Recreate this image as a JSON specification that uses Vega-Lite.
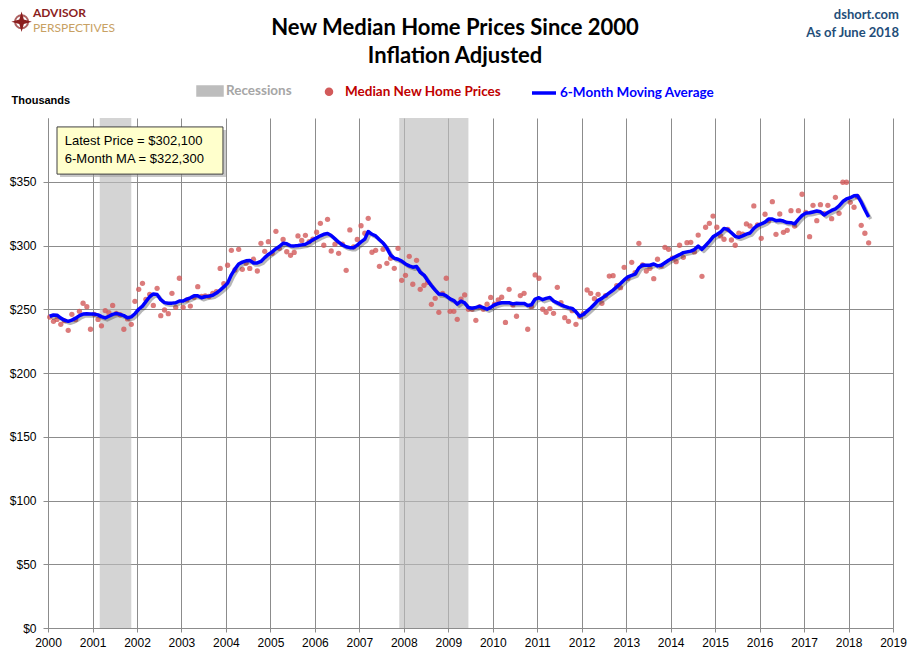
{
  "$schema": "https://vega.github.io/schema/vega-lite/v6.json",
  "width": 845,
  "height": 510,
  "autosize": {"type": "none"},
  "padding": {"left": 48, "top": 118, "right": 17, "bottom": 33},
  "background": "white",
  "config": {
    "view": {"stroke": null},
    "font": "Liberation Sans",
    "axisX": {
      "grid": true, "gridColor": "#8C8C8C", "domainColor": "#8C8C8C", "tickColor": "#8C8C8C",
      "tickSize": 4, "labelPadding": 5, "labelFont": "Liberation Sans Narrow, Liberation Sans",
      "labelFontSize": 12, "labelColor": "#000000", "labelFlush": false, "labelOverlap": false
    },
    "axisY": {
      "grid": true, "gridColor": "#8C8C8C", "domainColor": "#8C8C8C", "tickColor": "#8C8C8C",
      "tickSize": 5, "labelPadding": 7, "labelFont": "Liberation Sans", "labelFontSize": 12,
      "labelColor": "#000000", "titleAngle": 0, "titleAlign": "left", "titleBaseline": "middle",
      "titleX": -37, "titleY": -18, "titleFont": "Liberation Sans", "titleFontSize": 11,
      "titleFontWeight": "bold", "titleColor": "#000000"
    }
  },
  "data": {
    "format": {"parse": {"date": "date:'%Y-%m-%d'"}},
    "values": [
      {"date": "2000-01-15", "price": 243.9, "ma": 244.5},
      {"date": "2000-02-15", "price": 240.5, "ma": 245.5},
      {"date": "2000-03-15", "price": 242, "ma": 245.3},
      {"date": "2000-04-15", "price": 238.2, "ma": 243},
      {"date": "2000-05-15", "price": 241, "ma": 241.5},
      {"date": "2000-06-15", "price": 233.5, "ma": 240.5},
      {"date": "2000-07-15", "price": 246, "ma": 241.5},
      {"date": "2000-08-15", "price": 241.8, "ma": 243},
      {"date": "2000-09-15", "price": 248.4, "ma": 245},
      {"date": "2000-10-15", "price": 254.7, "ma": 246.2},
      {"date": "2000-11-15", "price": 252, "ma": 246.4},
      {"date": "2000-12-15", "price": 234.3, "ma": 246.3},
      {"date": "2001-01-15", "price": 246, "ma": 246.2},
      {"date": "2001-02-15", "price": 242, "ma": 245.6},
      {"date": "2001-03-15", "price": 237, "ma": 244.2},
      {"date": "2001-04-15", "price": 249, "ma": 243.2},
      {"date": "2001-05-15", "price": 247.3, "ma": 244.5},
      {"date": "2001-06-15", "price": 253, "ma": 246},
      {"date": "2001-07-15", "price": 246.8, "ma": 246.8},
      {"date": "2001-08-15", "price": 245.7, "ma": 246},
      {"date": "2001-09-15", "price": 234.3, "ma": 245},
      {"date": "2001-10-15", "price": 242.4, "ma": 243.4},
      {"date": "2001-11-15", "price": 238.2, "ma": 244},
      {"date": "2001-12-15", "price": 256.2, "ma": 246.5},
      {"date": "2002-01-15", "price": 265.6, "ma": 250},
      {"date": "2002-02-15", "price": 270.3, "ma": 252.5},
      {"date": "2002-03-15", "price": 257.8, "ma": 256},
      {"date": "2002-04-15", "price": 261.7, "ma": 259.8},
      {"date": "2002-05-15", "price": 253, "ma": 262},
      {"date": "2002-06-15", "price": 266.4, "ma": 261.5},
      {"date": "2002-07-15", "price": 245, "ma": 257.5},
      {"date": "2002-08-15", "price": 249.4, "ma": 255.2},
      {"date": "2002-09-15", "price": 246.5, "ma": 254.7},
      {"date": "2002-10-15", "price": 262.5, "ma": 254.8},
      {"date": "2002-11-15", "price": 251.5, "ma": 255.1},
      {"date": "2002-12-15", "price": 274.3, "ma": 256.5},
      {"date": "2003-01-15", "price": 251.5, "ma": 256.5},
      {"date": "2003-02-15", "price": 257.3, "ma": 258},
      {"date": "2003-03-15", "price": 252.5, "ma": 259},
      {"date": "2003-04-15", "price": 259.4, "ma": 260.5},
      {"date": "2003-05-15", "price": 267.7, "ma": 260.5},
      {"date": "2003-06-15", "price": 260, "ma": 259},
      {"date": "2003-07-15", "price": 260.4, "ma": 260},
      {"date": "2003-08-15", "price": 260, "ma": 260.3},
      {"date": "2003-09-15", "price": 262.5, "ma": 261},
      {"date": "2003-10-15", "price": 263.8, "ma": 262.7},
      {"date": "2003-11-15", "price": 282, "ma": 265},
      {"date": "2003-12-15", "price": 270, "ma": 267.5},
      {"date": "2004-01-15", "price": 284.5, "ma": 270.5},
      {"date": "2004-02-15", "price": 296.2, "ma": 277},
      {"date": "2004-03-15", "price": 280.8, "ma": 281.5},
      {"date": "2004-04-15", "price": 297, "ma": 285.5},
      {"date": "2004-05-15", "price": 281.3, "ma": 287},
      {"date": "2004-06-15", "price": 286, "ma": 288},
      {"date": "2004-07-15", "price": 282, "ma": 288.3},
      {"date": "2004-08-15", "price": 289.2, "ma": 286.3},
      {"date": "2004-09-15", "price": 280, "ma": 286.3},
      {"date": "2004-10-15", "price": 301.7, "ma": 287.5},
      {"date": "2004-11-15", "price": 295.4, "ma": 290.5},
      {"date": "2004-12-15", "price": 303, "ma": 293},
      {"date": "2005-01-15", "price": 293.9, "ma": 295},
      {"date": "2005-02-15", "price": 311.1, "ma": 297.5},
      {"date": "2005-03-15", "price": 297.8, "ma": 299.2},
      {"date": "2005-04-15", "price": 304.8, "ma": 301.8},
      {"date": "2005-05-15", "price": 295.1, "ma": 301.3},
      {"date": "2005-06-15", "price": 292.3, "ma": 299.8},
      {"date": "2005-07-15", "price": 294.6, "ma": 299.7},
      {"date": "2005-08-15", "price": 307.5, "ma": 300},
      {"date": "2005-09-15", "price": 304, "ma": 300.5},
      {"date": "2005-10-15", "price": 308, "ma": 301},
      {"date": "2005-11-15", "price": 303, "ma": 302.5},
      {"date": "2005-12-15", "price": 305, "ma": 304.5},
      {"date": "2006-01-15", "price": 310.4, "ma": 306},
      {"date": "2006-02-15", "price": 317.4, "ma": 307.6},
      {"date": "2006-03-15", "price": 300.2, "ma": 308.8},
      {"date": "2006-04-15", "price": 320.5, "ma": 309.4},
      {"date": "2006-05-15", "price": 295.7, "ma": 307.8},
      {"date": "2006-06-15", "price": 301, "ma": 305.2},
      {"date": "2006-07-15", "price": 293.9, "ma": 302.6},
      {"date": "2006-08-15", "price": 301, "ma": 300.5},
      {"date": "2006-09-15", "price": 280.5, "ma": 299},
      {"date": "2006-10-15", "price": 312.2, "ma": 298.3},
      {"date": "2006-11-15", "price": 299, "ma": 298.3},
      {"date": "2006-12-15", "price": 304.8, "ma": 300.3},
      {"date": "2007-01-15", "price": 315.5, "ma": 302.8},
      {"date": "2007-02-15", "price": 309.6, "ma": 305},
      {"date": "2007-03-15", "price": 321.3, "ma": 311},
      {"date": "2007-04-15", "price": 294.7, "ma": 308.8},
      {"date": "2007-05-15", "price": 296.2, "ma": 307.5},
      {"date": "2007-06-15", "price": 283.7, "ma": 304.5},
      {"date": "2007-07-15", "price": 297, "ma": 302},
      {"date": "2007-08-15", "price": 286, "ma": 298},
      {"date": "2007-09-15", "price": 290, "ma": 292.5},
      {"date": "2007-10-15", "price": 282.1, "ma": 290},
      {"date": "2007-11-15", "price": 297.8, "ma": 289.2},
      {"date": "2007-12-15", "price": 272.7, "ma": 287.8},
      {"date": "2008-01-15", "price": 276.6, "ma": 285.5},
      {"date": "2008-02-15", "price": 291.5, "ma": 284},
      {"date": "2008-03-15", "price": 269.6, "ma": 283},
      {"date": "2008-04-15", "price": 288.4, "ma": 283.5},
      {"date": "2008-05-15", "price": 265.6, "ma": 279},
      {"date": "2008-06-15", "price": 268.8, "ma": 276.8},
      {"date": "2008-07-15", "price": 271.1, "ma": 272.5},
      {"date": "2008-08-15", "price": 253.9, "ma": 268.5},
      {"date": "2008-09-15", "price": 258.6, "ma": 265},
      {"date": "2008-10-15", "price": 247.6, "ma": 262},
      {"date": "2008-11-15", "price": 262.5, "ma": 261.8},
      {"date": "2008-12-15", "price": 274.3, "ma": 260.5},
      {"date": "2009-01-15", "price": 248.4, "ma": 258.2},
      {"date": "2009-02-15", "price": 248.4, "ma": 256.8},
      {"date": "2009-03-15", "price": 242.1, "ma": 254},
      {"date": "2009-04-15", "price": 258, "ma": 256.3},
      {"date": "2009-05-15", "price": 261.2, "ma": 255},
      {"date": "2009-06-15", "price": 250, "ma": 251.3},
      {"date": "2009-07-15", "price": 250, "ma": 250.8},
      {"date": "2009-08-15", "price": 241.3, "ma": 251.5},
      {"date": "2009-09-15", "price": 252, "ma": 252.3},
      {"date": "2009-10-15", "price": 250, "ma": 251.3},
      {"date": "2009-11-15", "price": 254, "ma": 250},
      {"date": "2009-12-15", "price": 259.3, "ma": 251.5},
      {"date": "2010-01-15", "price": 254, "ma": 253.5},
      {"date": "2010-02-15", "price": 257.3, "ma": 254.5},
      {"date": "2010-03-15", "price": 259.4, "ma": 255.1},
      {"date": "2010-04-15", "price": 239.7, "ma": 255.1},
      {"date": "2010-05-15", "price": 265.6, "ma": 255.1},
      {"date": "2010-06-15", "price": 253.3, "ma": 254.2},
      {"date": "2010-07-15", "price": 244.5, "ma": 254.7},
      {"date": "2010-08-15", "price": 260.7, "ma": 254.6},
      {"date": "2010-09-15", "price": 262.5, "ma": 254.6},
      {"date": "2010-10-15", "price": 234.3, "ma": 253},
      {"date": "2010-11-15", "price": 252, "ma": 253.5},
      {"date": "2010-12-15", "price": 276.9, "ma": 258},
      {"date": "2011-01-15", "price": 274.3, "ma": 259},
      {"date": "2011-02-15", "price": 250, "ma": 257.5},
      {"date": "2011-03-15", "price": 247.6, "ma": 258.5},
      {"date": "2011-04-15", "price": 250.5, "ma": 259.2},
      {"date": "2011-05-15", "price": 246.8, "ma": 256.5},
      {"date": "2011-06-15", "price": 267.2, "ma": 255},
      {"date": "2011-07-15", "price": 255.2, "ma": 253.5},
      {"date": "2011-08-15", "price": 243.4, "ma": 252.2},
      {"date": "2011-09-15", "price": 240.5, "ma": 251.3},
      {"date": "2011-10-15", "price": 248.9, "ma": 250.7},
      {"date": "2011-11-15", "price": 238.2, "ma": 248},
      {"date": "2011-12-15", "price": 244.2, "ma": 244.5},
      {"date": "2012-01-15", "price": 246.5, "ma": 246},
      {"date": "2012-02-15", "price": 265.1, "ma": 248.5},
      {"date": "2012-03-15", "price": 262.5, "ma": 251},
      {"date": "2012-04-15", "price": 258.3, "ma": 254},
      {"date": "2012-05-15", "price": 261.7, "ma": 257},
      {"date": "2012-06-15", "price": 254.7, "ma": 258.5},
      {"date": "2012-07-15", "price": 260.7, "ma": 260.7},
      {"date": "2012-08-15", "price": 276, "ma": 262.8},
      {"date": "2012-09-15", "price": 276.3, "ma": 265},
      {"date": "2012-10-15", "price": 268.5, "ma": 267.5},
      {"date": "2012-11-15", "price": 266.9, "ma": 270.2},
      {"date": "2012-12-15", "price": 282.9, "ma": 273},
      {"date": "2013-01-15", "price": 274.3, "ma": 275.4},
      {"date": "2013-02-15", "price": 286.8, "ma": 276.5},
      {"date": "2013-03-15", "price": 278.7, "ma": 277.5},
      {"date": "2013-04-15", "price": 301.7, "ma": 282.5},
      {"date": "2013-05-15", "price": 284.7, "ma": 284.7},
      {"date": "2013-06-15", "price": 280, "ma": 284.5},
      {"date": "2013-07-15", "price": 282.1, "ma": 284.5},
      {"date": "2013-08-15", "price": 274, "ma": 285.5},
      {"date": "2013-09-15", "price": 289.2, "ma": 284},
      {"date": "2013-10-15", "price": 283.9, "ma": 284.5},
      {"date": "2013-11-15", "price": 298.6, "ma": 286.5},
      {"date": "2013-12-15", "price": 297, "ma": 288.4},
      {"date": "2014-01-15", "price": 290, "ma": 290},
      {"date": "2014-02-15", "price": 287.3, "ma": 291.5},
      {"date": "2014-03-15", "price": 300.2, "ma": 292.8},
      {"date": "2014-04-15", "price": 290.7, "ma": 294.4},
      {"date": "2014-05-15", "price": 302.2, "ma": 295},
      {"date": "2014-06-15", "price": 302.5, "ma": 295.6},
      {"date": "2014-07-15", "price": 295, "ma": 296.8},
      {"date": "2014-08-15", "price": 308.2, "ma": 299.5},
      {"date": "2014-09-15", "price": 275.8, "ma": 297},
      {"date": "2014-10-15", "price": 314.3, "ma": 300},
      {"date": "2014-11-15", "price": 317.4, "ma": 303.2},
      {"date": "2014-12-15", "price": 323.1, "ma": 306.8},
      {"date": "2015-01-15", "price": 314.3, "ma": 308.7},
      {"date": "2015-02-15", "price": 307.5, "ma": 310.5},
      {"date": "2015-03-15", "price": 304.9, "ma": 313.4},
      {"date": "2015-04-15", "price": 312.7, "ma": 312.6},
      {"date": "2015-05-15", "price": 304.3, "ma": 310},
      {"date": "2015-06-15", "price": 300.2, "ma": 307.2},
      {"date": "2015-07-15", "price": 309.6, "ma": 306.4},
      {"date": "2015-08-15", "price": 309, "ma": 307.5},
      {"date": "2015-09-15", "price": 316.9, "ma": 308.9},
      {"date": "2015-10-15", "price": 315.3, "ma": 309.8},
      {"date": "2015-11-15", "price": 331, "ma": 313.5},
      {"date": "2015-12-15", "price": 316.1, "ma": 315.8},
      {"date": "2016-01-15", "price": 305.6, "ma": 317},
      {"date": "2016-02-15", "price": 324.5, "ma": 318.3},
      {"date": "2016-03-15", "price": 319.5, "ma": 320.7},
      {"date": "2016-04-15", "price": 334.4, "ma": 320.8},
      {"date": "2016-05-15", "price": 308.8, "ma": 319.5},
      {"date": "2016-06-15", "price": 324.7, "ma": 319.8},
      {"date": "2016-07-15", "price": 310.3, "ma": 319.2},
      {"date": "2016-08-15", "price": 311.9, "ma": 318},
      {"date": "2016-09-15", "price": 327.3, "ma": 317.9},
      {"date": "2016-10-15", "price": 315.3, "ma": 317},
      {"date": "2016-11-15", "price": 327.3, "ma": 320.5},
      {"date": "2016-12-15", "price": 340.2, "ma": 323.5},
      {"date": "2017-01-15", "price": 326, "ma": 325.4},
      {"date": "2017-02-15", "price": 306.9, "ma": 325.7},
      {"date": "2017-03-15", "price": 331.5, "ma": 326.3},
      {"date": "2017-04-15", "price": 319.5, "ma": 327},
      {"date": "2017-05-15", "price": 332, "ma": 326.5},
      {"date": "2017-06-15", "price": 325, "ma": 324},
      {"date": "2017-07-15", "price": 331.5, "ma": 325.8},
      {"date": "2017-08-15", "price": 321, "ma": 327.5},
      {"date": "2017-09-15", "price": 337.8, "ma": 328.8},
      {"date": "2017-10-15", "price": 325.2, "ma": 331},
      {"date": "2017-11-15", "price": 349.6, "ma": 334.5},
      {"date": "2017-12-15", "price": 349.6, "ma": 336.5},
      {"date": "2018-01-15", "price": 333.9, "ma": 337.5},
      {"date": "2018-02-15", "price": 330, "ma": 339},
      {"date": "2018-03-15", "price": 338.3, "ma": 339.2},
      {"date": "2018-04-15", "price": 315.8, "ma": 334},
      {"date": "2018-05-15", "price": 309.6, "ma": 328},
      {"date": "2018-06-15", "price": 302.1, "ma": 322.3}
    ]
  },
  "layer": [
    {
      "data": {
        "format": {"parse": {"start": "date:'%Y-%m-%d'", "end": "date:'%Y-%m-%d'"}},
        "values": [
          {"start": "2001-03-01", "end": "2001-11-15"},
          {"start": "2007-11-25", "end": "2009-06-15"}
        ]
      },
      "mark": {"type": "rect", "opacity": 0.65},
      "encoding": {
        "x": {"field": "start", "type": "temporal", "title": null,
              "scale": {"domain": [{"year": 2000, "month": 1, "date": 1}, {"year": 2019, "month": 1, "date": 1}]},
              "axis": {"format": "%Y", "tickCount": {"interval": "year", "step": 1}}},
        "x2": {"field": "end"},
        "color": {
          "datum": "Recessions",
          "scale": {
            "domain": ["Recessions", "Median New Home Prices", "6-Month Moving Average"],
            "range": ["#BDBDBD", "#D25A5A", "#0000FF"]
          },
          "legend": {
            "title": null, "orient": "none", "legendX": 148, "legendY": -41,
            "direction": "horizontal", "symbolSize": 576, "symbolStrokeWidth": 3.5, "padding": 0,
            "labelFont": "Lato", "labelFontSize": 13.5, "labelFontWeight": "bold",
            "labelOffset": 2, "columnPadding": 23, "labelLimit": 300,
            "encoding": {
              "symbols": {
                "shape": {"value": {"expr": "datum.label === 'Recessions' ? 'M-1,-0.33H1V0.33H-1Z' : datum.label === '6-Month Moving Average' ? 'stroke' : 'M0.21,0A0.21,0.21,0,1,1,-0.21,0A0.21,0.21,0,1,1,0.21,0Z'"}},
                "fill": {"value": {"expr": "datum.label === 'Recessions' ? '#D3D3D3' : datum.label === '6-Month Moving Average' ? 'transparent' : '#DB7B7B'"}},
                "stroke": {"value": {"expr": "datum.label === '6-Month Moving Average' ? '#0000FF' : 'transparent'"}},
                "strokeWidth": {"value": 3.5},
                "opacity": {"value": 1},
                "fillOpacity": {"value": 1},
                "strokeOpacity": {"value": 1}
              },
              "labels": {
                "fill": {"value": {"expr": "datum.label === 'Recessions' ? '#A6A6A6' : datum.label === 'Median New Home Prices' ? '#C00000' : '#0000FF'"}}
              }
            }
          }
        }
      }
    },
    {
      "mark": {"type": "point", "filled": true, "size": 28, "opacity": 0.8},
      "encoding": {
        "x": {"field": "date", "type": "temporal", "title": null,
              "scale": {"domain": [{"year": 2000, "month": 1, "date": 1}, {"year": 2019, "month": 1, "date": 1}]}},
        "y": {"field": "price", "type": "quantitative", "title": "Thousands",
              "scale": {"domain": [0, 400], "nice": false},
              "axis": {"values": [0, 50, 100, 150, 200, 250, 300, 350], "format": "$.0f"}},
        "color": {"datum": "Median New Home Prices"}
      }
    },
    {
      "mark": {"type": "line", "strokeWidth": 3.5, "strokeJoin": "round", "stroke": "#303030", "opacity": 0.35, "xOffset": 2, "yOffset": 2},
      "encoding": {
        "x": {"field": "date", "type": "temporal", "title": null},
        "y": {"field": "ma", "type": "quantitative", "title": "Thousands"}
      }
    },
    {
      "mark": {"type": "line", "strokeWidth": 3.5, "strokeJoin": "round"},
      "encoding": {
        "x": {"field": "date", "type": "temporal", "title": null},
        "y": {"field": "ma", "type": "quantitative", "title": "Thousands"},
        "color": {"datum": "6-Month Moving Average"}
      }
    },
    {
      "data": {"values": [{}]},
      "mark": {"type": "rect", "fill": "#9A9A9A", "opacity": 0.55, "xOffset": 3, "x2Offset": 3, "yOffset": 3, "y2Offset": 3},
      "encoding": {
        "x": {"datum": {"year": 2000, "month": 3, "date": 15}, "type": "temporal", "title": null},
        "x2": {"datum": {"year": 2003, "month": 12, "date": 8}},
        "y": {"datum": 393, "type": "quantitative", "title": "Thousands"},
        "y2": {"datum": 356}
      }
    },
    {
      "data": {"values": [{}]},
      "mark": {"type": "rect", "fill": "#FFFFCC", "stroke": "#404040", "strokeWidth": 1},
      "encoding": {
        "x": {"datum": {"year": 2000, "month": 3, "date": 15}, "type": "temporal", "title": null},
        "x2": {"datum": {"year": 2003, "month": 12, "date": 8}},
        "y": {"datum": 393, "type": "quantitative", "title": "Thousands"},
        "y2": {"datum": 356}
      }
    },
    {
      "data": {"values": [{}]},
      "mark": {"type": "text", "align": "left", "baseline": "middle", "font": "Liberation Sans", "fontSize": 13, "color": "#000000"},
      "encoding": {
        "x": {"datum": {"year": 2000, "month": 5, "date": 18}, "type": "temporal", "title": null},
        "y": {"datum": 382, "type": "quantitative", "title": "Thousands"},
        "text": {"value": "Latest Price = $302,100"}
      }
    },
    {
      "data": {"values": [{}]},
      "mark": {"type": "text", "align": "left", "baseline": "middle", "font": "Liberation Sans", "fontSize": 13, "color": "#000000"},
      "encoding": {
        "x": {"datum": {"year": 2000, "month": 5, "date": 18}, "type": "temporal", "title": null},
        "y": {"datum": 368, "type": "quantitative", "title": "Thousands"},
        "text": {"value": "6-Month MA = $322,300"}
      }
    },
    {
      "data": {"values": [{}]},
      "mark": {"type": "text", "align": "center", "baseline": "middle", "font": "Lato", "fontSize": 22, "fontWeight": "bold", "color": "#000000"},
      "encoding": {
        "x": {"datum": {"year": 2009, "month": 2, "date": 25}, "type": "temporal", "title": null},
        "y": {"datum": 470.5, "type": "quantitative", "title": "Thousands"},
        "text": {"value": "New Median Home Prices Since 2000"}
      }
    },
    {
      "data": {"values": [{}]},
      "mark": {"type": "text", "align": "center", "baseline": "middle", "font": "Lato", "fontSize": 22, "fontWeight": "bold", "color": "#000000"},
      "encoding": {
        "x": {"datum": {"year": 2009, "month": 2, "date": 25}, "type": "temporal", "title": null},
        "y": {"datum": 448.6, "type": "quantitative", "title": "Thousands"},
        "text": {"value": "Inflation Adjusted"}
      }
    },
    {
      "data": {"values": [{}]},
      "mark": {"type": "text", "align": "right", "baseline": "middle", "font": "Lato", "fontSize": 13, "fontWeight": "bold", "color": "#1F4E79"},
      "encoding": {
        "x": {"datum": {"year": 2019, "month": 2, "date": 19}, "type": "temporal", "title": null},
        "y": {"datum": 480.8, "type": "quantitative", "title": "Thousands"},
        "text": {"value": "dshort.com"}
      }
    },
    {
      "data": {"values": [{}]},
      "mark": {"type": "text", "align": "right", "baseline": "middle", "font": "Lato", "fontSize": 13, "fontWeight": "bold", "color": "#1F4E79"},
      "encoding": {
        "x": {"datum": {"year": 2019, "month": 2, "date": 19}, "type": "temporal", "title": null},
        "y": {"datum": 467, "type": "quantitative", "title": "Thousands"},
        "text": {"value": "As of June 2018"}
      }
    },
    {
      "data": {"values": [{}]},
      "mark": {"type": "point", "filled": false, "shape": "circle", "size": 170, "stroke": "#8B1E1E", "strokeWidth": 2},
      "encoding": {
        "x": {"datum": {"year": 1999, "month": 5, "date": 29}, "type": "temporal", "title": null},
        "y": {"datum": 475.5, "type": "quantitative", "title": "Thousands"}
      }
    },
    {
      "data": {"values": [{}]},
      "mark": {"type": "point", "filled": true, "shape": "M0,-1L0.22,-0.22L1,0L0.22,0.22L0,1L-0.22,0.22L-1,0L-0.22,-0.22Z", "size": 420, "color": "#8B1E1E", "opacity": 1},
      "encoding": {
        "x": {"datum": {"year": 1999, "month": 5, "date": 29}, "type": "temporal", "title": null},
        "y": {"datum": 475.5, "type": "quantitative", "title": "Thousands"}
      }
    },
    {
      "data": {"values": [{}]},
      "mark": {"type": "text", "align": "left", "baseline": "middle", "font": "Lato", "fontSize": 12, "fontWeight": "bold", "color": "#8B1E1E"},
      "encoding": {
        "x": {"datum": {"year": 1999, "month": 8, "date": 30}, "type": "temporal", "title": null},
        "y": {"datum": 482.2, "type": "quantitative", "title": "Thousands"},
        "text": {"value": "ADVISOR"}
      }
    },
    {
      "data": {"values": [{}]},
      "mark": {"type": "text", "align": "left", "baseline": "middle", "font": "Lato", "fontSize": 12, "fontWeight": "normal", "color": "#C8A163"},
      "encoding": {
        "x": {"datum": {"year": 1999, "month": 8, "date": 30}, "type": "temporal", "title": null},
        "y": {"datum": 470.2, "type": "quantitative", "title": "Thousands"},
        "text": {"value": "PERSPECTIVES"}
      }
    }
  ]
}
